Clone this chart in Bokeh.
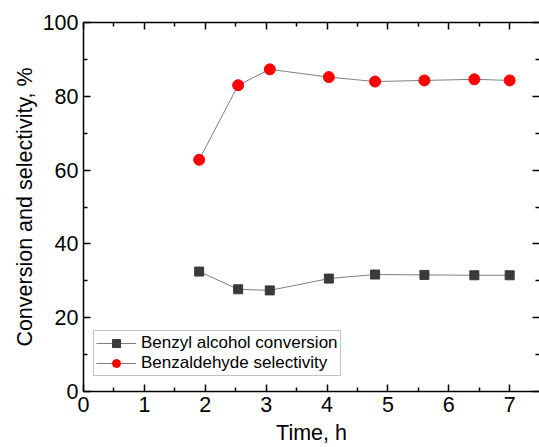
from bokeh.plotting import figure
from bokeh.models import Range1d, LinearAxis, Legend, LegendItem, FixedTicker, CustomJSTickFormatter
from bokeh.embed import file_html
from bokeh.resources import INLINE

time_h = [1.9, 2.54, 3.06, 4.03, 4.79, 5.6, 6.42, 7.0]
conversion = [32.5, 27.7, 27.4, 30.6, 31.7, 31.6, 31.5, 31.5]
selectivity = [62.8, 83.0, 87.3, 85.2, 84.0, 84.3, 84.6, 84.3]
x_ticks = [0, 1, 2, 3, 4, 5, 6, 7]
y_ticks = [0, 20, 40, 60, 80, 100]
series_names = ["Benzyl alcohol conversion", "Benzaldehyde selectivity"]

FONT = "Liberation Sans"

p = figure(width=539, height=447, output_backend="svg", toolbar_location=None,
           x_range=Range1d(0, 7.49), y_range=Range1d(0, 100),
           min_border_left=83, min_border_right=0, min_border_top=22, min_border_bottom=0)
p.xgrid.visible = False
p.ygrid.visible = False
p.outline_line_color = None
p.background_fill_color = "white"
p.border_fill_color = "white"

def style_axis(ax, labels=True):
    ax.axis_line_color = "black"
    ax.axis_line_width = 1.5
    ax.major_tick_line_color = "black"
    ax.minor_tick_line_color = "black"
    ax.major_tick_line_width = 1.5
    ax.minor_tick_line_width = 1.5
    ax.major_tick_in = 7
    ax.major_tick_out = 0
    ax.minor_tick_in = 4
    ax.minor_tick_out = 0
    ax.major_label_text_font = FONT
    ax.major_label_text_color = "black"
    ax.axis_label_text_font = FONT
    ax.axis_label_text_font_style = "normal"
    ax.axis_label_text_color = "black"
    if not labels:
        ax.formatter = CustomJSTickFormatter(code="return ''")
        ax.major_label_standoff = 0

xax = p.xaxis[0]
xax.ticker = FixedTicker(ticks=x_ticks, minor_ticks=[v + 0.5 for v in range(0, 8)])
style_axis(xax)
xax.major_label_text_font_size = "21.5px"
xax.major_label_standoff = 5
xax.axis_label = "Time, h"
xax.axis_label_text_font_size = "21.5px"
xax.axis_label_standoff = 6

yax = p.yaxis[0]
yax.ticker = FixedTicker(ticks=y_ticks, minor_ticks=[10, 30, 50, 70, 90])
style_axis(yax)
yax.major_label_text_font_size = "21.5px"
yax.major_label_standoff = 5
yax.axis_label = "Conversion and selectivity, %"
yax.axis_label_text_font_size = "21.5px"
yax.axis_label_standoff = 3

top = LinearAxis(ticker=FixedTicker(ticks=x_ticks, minor_ticks=[v + 0.5 for v in range(0, 8)]))
style_axis(top, labels=False)
p.add_layout(top, "above")

right = LinearAxis(ticker=FixedTicker(ticks=y_ticks, minor_ticks=[10, 30, 50, 70, 90]))
style_axis(right, labels=False)
right.axis_line_color = None
p.add_layout(right, "right")

l1 = p.line(time_h, conversion, line_color="#808080", line_width=1)
s1 = p.scatter(time_h, conversion, marker="square", size=9, fill_color="#3a3a3a", line_color="#3a3a3a")
l2 = p.line(time_h, selectivity, line_color="#808080", line_width=1)
s2 = p.scatter(time_h, selectivity, marker="circle", size=11, fill_color="#ff0000", line_color="#ff0000")

legend = Legend(items=[LegendItem(label=series_names[0], renderers=[l1, s1]),
                       LegendItem(label=series_names[1], renderers=[l2, s2])],
                location=(10, 15))
legend.label_text_font = FONT
legend.label_text_font_size = "17px"
legend.label_text_color = "black"
legend.border_line_color = "#888888"
legend.border_line_width = 1
legend.background_fill_alpha = 1
legend.padding = 2
legend.spacing = 0
legend.margin = 0
legend.glyph_width = 40
legend.glyph_height = 20
legend.label_height = 20
legend.label_standoff = 5
p.add_layout(legend, "center")

open("out.html", "w").write(file_html(p, INLINE))
